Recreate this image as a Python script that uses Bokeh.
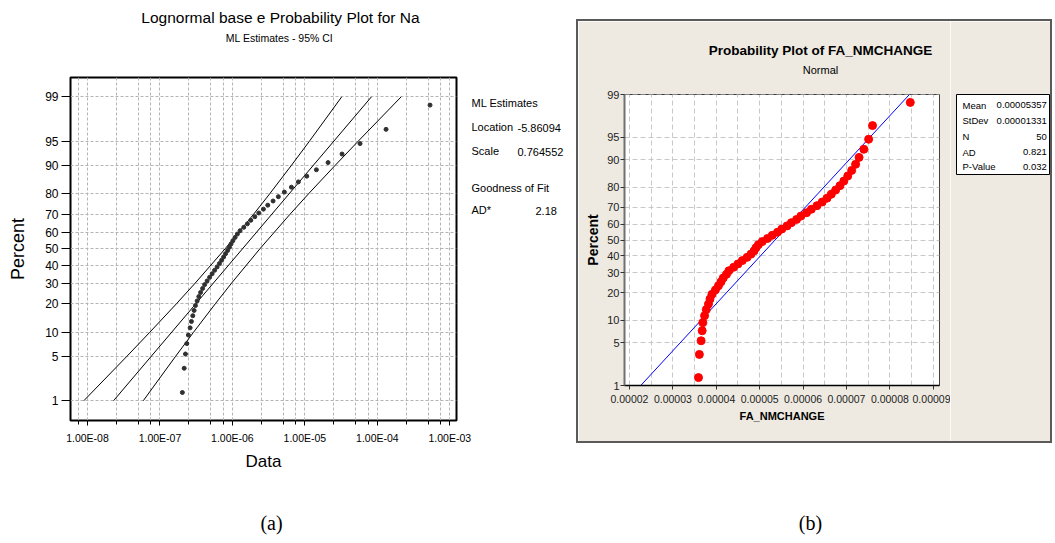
from statistics import NormalDist
from bokeh.plotting import figure
from bokeh.layouts import row, column
from bokeh.models import Range1d, FixedTicker, CustomJSTickFormatter, Label, Spacer
from bokeh.core.properties import value
from bokeh.embed import file_html
from bokeh.resources import INLINE

# ---------------- data ----------------
percent = [1.39, 3.37, 5.36, 7.34, 9.33, 11.31, 13.29, 15.28, 17.26, 19.25,
           21.23, 23.21, 25.20, 27.18, 29.17, 31.15, 33.13, 35.12, 37.10, 39.09,
           41.07, 43.06, 45.04, 47.02, 49.01, 50.99, 52.98, 54.96, 56.94, 58.93,
           60.91, 62.90, 64.88, 66.87, 68.85, 70.83, 72.82, 74.80, 76.79, 78.77,
           80.75, 82.74, 84.72, 86.71, 88.69, 90.67, 92.66, 94.64, 96.63, 98.61]

na_data = [2.04e-7, 2.16e-7, 2.25e-7, 2.35e-7, 2.47e-7, 2.61e-7, 2.72e-7, 2.84e-7, 2.96e-7, 3.09e-7,
           3.26e-7, 3.44e-7, 3.64e-7, 3.88e-7, 4.14e-7, 4.48e-7, 4.85e-7, 5.25e-7, 5.68e-7, 6.15e-7,
           6.62e-7, 7.10e-7, 7.57e-7, 8.05e-7, 8.59e-7, 9.10e-7, 9.59e-7, 1.016e-6, 1.089e-6, 1.172e-6,
           1.276e-6, 1.436e-6, 1.611e-6, 1.795e-6, 2.037e-6, 2.312e-6, 2.679e-6, 3.076e-6, 3.639e-6, 4.305e-6,
           5.212e-6, 6.516e-6, 8.128e-6, 1.062e-5, 1.442e-5, 2.089e-5, 3.258e-5, 5.768e-5, 1.318e-4, 5.333e-4]
na_fit_pct = [1, 99]
na_fit_x = [2.29e-8, 8.28e-5]
na_ci_pct = [1, 5, 10, 20, 30, 50, 70, 80, 90, 95, 99]
na_ci_upper = [8.91e-9, 3.51e-8, 7.19e-8, 1.69e-7, 3.07e-7, 7.93e-7, 1.945e-6, 3.27e-6, 6.56e-6, 1.15e-5, 3.22e-5]
na_ci_lower = [5.89e-8, 1.648e-7, 2.89e-7, 5.81e-7, 9.75e-7, 2.393e-6, 6.18e-6, 1.122e-5, 2.636e-5, 5.41e-5, 2.128e-4]
na_x_ticks = [1e-8, 1e-7, 1e-6, 1e-5, 1e-4, 1e-3]
na_x_labels = ["1.00E-08", "1.00E-07", "1.00E-06", "1.00E-05", "1.00E-04", "1.00E-03"]
na_x_minor = [7.5e-9, 2.5e-8, 5e-8, 7.5e-8, 2.5e-7, 5e-7, 7.5e-7, 2.5e-6, 5e-6, 7.5e-6,
              2.5e-5, 5e-5, 7.5e-5, 2.5e-4, 5e-4, 7.5e-4]
na_stats_names = ["Location", "Scale"]
na_stats_values = ["-5.86094", "0.764552"]
na_ad = "2.18"

fa_data = [3.59e-5, 3.61e-5, 3.65e-5, 3.675e-5, 3.69e-5, 3.73e-5, 3.77e-5, 3.82e-5, 3.855e-5, 3.90e-5,
           3.98e-5, 4.05e-5, 4.11e-5, 4.16e-5, 4.235e-5, 4.29e-5, 4.40e-5, 4.50e-5, 4.60e-5, 4.71e-5,
           4.80e-5, 4.87e-5, 4.915e-5, 4.97e-5, 5.06e-5, 5.18e-5, 5.29e-5, 5.41e-5, 5.51e-5, 5.63e-5,
           5.73e-5, 5.85e-5, 5.95e-5, 6.08e-5, 6.19e-5, 6.32e-5, 6.44e-5, 6.55e-5, 6.65e-5, 6.75e-5,
           6.85e-5, 6.94e-5, 7.03e-5, 7.12e-5, 7.21e-5, 7.29e-5, 7.40e-5, 7.51e-5, 7.60e-5, 8.47e-5]
fa_fit_pct = [1, 99]
fa_fit_x = [2.26e-5, 8.45e-5]
fa_x_ticks = [2e-5, 3e-5, 4e-5, 5e-5, 6e-5, 7e-5, 8e-5, 9e-5]
fa_x_labels = ["0.00002", "0.00003", "0.00004", "0.00005", "0.00006", "0.00007", "0.00008", "0.00009"]
fa_x_minor = [2.5e-5, 3.5e-5, 4.5e-5, 5.5e-5, 6.5e-5, 7.5e-5, 8.5e-5]
fa_stats_names = ["Mean", "StDev", "N", "AD", "P-Value"]
fa_stats_values = ["0.00005357", "0.00001331", "50", "0.821", "0.032"]

pct_ticks = [1, 5, 10, 20, 30, 40, 50, 60, 70, 80, 90, 95, 99]
pct_labels = ["1", "5", "10", "20", "30", "40", "50", "60", "70", "80", "90", "95", "99"]

# ---------------- helpers ----------------
ND = NormalDist()


def zq(p):
    return ND.inv_cdf(p / 100.0)


SANS = "Liberation Sans"
SERIF = "Liberation Serif"
BEIGE = "#EEEAE1"
EDGE = "#5a5a5a"

pct_z = [zq(p) for p in pct_ticks]


def nearest_fmt(tvals, tlabels, log=False):
    code = """
    const f = (v) => LOGFLAG ? Math.log10(v) : v;
    let b = 0, bd = Infinity;
    for (let i = 0; i < tv.length; i++) {
        const d = Math.abs(f(tv[i]) - f(tick));
        if (d < bd) { bd = d; b = i; }
    }
    return tl[b];
    """.replace("LOGFLAG", "true" if log else "false")
    return CustomJSTickFormatter(args=dict(tv=tvals, tl=tlabels), code=code)


def add_text(fig, side, x, y, text, size, align="left", font=SANS, style="normal",
             color="black", line_height=1.2):
    fig.add_layout(Label(x=x, y=y, x_units="canvas", y_units="canvas", text=text,
                         text_font=font, text_font_size=f"{size}px", text_font_style=style,
                         text_color=color, text_align=align, text_baseline="middle",
                         text_line_height=line_height), side)


def bare_figure(w, h, xr, yr, **kw):
    f = figure(width=w, height=h, x_range=xr, y_range=yr, output_backend="svg",
               toolbar_location=None, x_axis_location=None, y_axis_location=None, **kw)
    f.frame_align = False
    f.grid.grid_line_color = None
    return f


def edge(w, h):
    return Spacer(width=w, height=h, styles={"background-color": EDGE})


# ---------------- (a) lognormal plot ----------------
pa = figure(width=576, height=543, x_axis_type="log",
            x_range=Range1d(10 ** -8.234, 10 ** -2.908), y_range=Range1d(-2.629, 2.623),
            output_backend="svg", toolbar_location=None,
            min_border_left=70, min_border_right=120, min_border_top=77, min_border_bottom=123)
pa.frame_align = False
pa.background_fill_color = "white"
pa.border_fill_color = "white"
pa.outline_line_color = "black"
pa.outline_line_width = 2

pa.xaxis.ticker = FixedTicker(ticks=na_x_ticks, minor_ticks=na_x_minor)
pa.xaxis.formatter = nearest_fmt(na_x_ticks, na_x_labels, log=True)
pa.yaxis.ticker = FixedTicker(ticks=pct_z)
pa.yaxis.formatter = nearest_fmt(pct_z, pct_labels)

for ax in (pa.xaxis[0], pa.yaxis[0]):
    ax.axis_line_color = None
    ax.major_tick_in = 0
    ax.minor_tick_in = 0
    ax.major_tick_line_color = "black"
    ax.minor_tick_line_color = "black"
    ax.major_label_text_font = SANS
    ax.major_label_text_color = "black"
    ax.axis_label_text_font = SANS
    ax.axis_label_text_font_style = "normal"
    ax.axis_label_text_color = "black"
pa.xaxis.major_tick_out = 5
pa.xaxis.minor_tick_out = 4
pa.xaxis.major_label_standoff = 6
pa.xaxis.major_label_text_font_size = "10.5px"
pa.xaxis.axis_label = "Data"
pa.xaxis.axis_label_text_font_size = "17px"
pa.xaxis.axis_label_standoff = 5
pa.yaxis.major_tick_out = 9
pa.yaxis.minor_tick_out = 0
pa.yaxis.major_label_standoff = 3
pa.yaxis.major_label_text_font_size = "12px"
pa.yaxis.axis_label = "Percent"
pa.yaxis.axis_label_text_font_size = "18px"
pa.yaxis.axis_label_standoff = 14

for g in (pa.xgrid[0], pa.ygrid[0]):
    g.grid_line_color = "#b4b4b4"
    g.grid_line_dash = "3 2"
    g.grid_line_width = 1
pa.xgrid.minor_grid_line_color = "#b4b4b4"
pa.xgrid.minor_grid_line_dash = "3 2"

na_pz = [zq(p) for p in percent]
pa.line(na_ci_upper, [zq(p) for p in na_ci_pct], line_color="black", line_width=1)
pa.line(na_fit_x, [zq(p) for p in na_fit_pct], line_color="black", line_width=1)
pa.line(na_ci_lower, [zq(p) for p in na_ci_pct], line_color="black", line_width=1)
pa.scatter(na_data, na_pz, size=4, fill_color="#303030", line_color="#303030")

add_text(pa, "above", 280, 17, "Lognormal base e Probability Plot for Na", 15.5, align="center")
add_text(pa, "above", 279, 37, "ML Estimates - 95% CI", 10.5, align="center")
add_text(pa, "above", 535, 210, na_ad, 11)
add_text(pa, "right", 471, 126.5, "\n".join(["ML Estimates"] + na_stats_names), 11, line_height=2.0)
add_text(pa, "right", 517, 139.5, "\n".join(na_stats_values), 11, line_height=2.0)
add_text(pa, "below", 471, 198.5, "Goodness of Fit\nAD*", 11, line_height=1.87)
add_text(pa, "below", 271, 522, "(a)", 20, align="center", font=SERIF)

# ---------------- (b) normal plot: main panel ----------------
pb = figure(width=372, height=420,
            x_range=Range1d(1.885e-5, 9.143e-5), y_range=Range1d(zq(1) - 1e-9, zq(99) + 1e-9),
            output_backend="svg", toolbar_location=None,
            min_border_left=46, min_border_right=11, min_border_top=73, min_border_bottom=56)
pb.frame_align = False
pb.background_fill_color = "white"
pb.border_fill_color = BEIGE
pb.outline_line_color = "#404040"
pb.outline_line_width = 1

pb.xaxis.ticker = FixedTicker(ticks=fa_x_ticks, minor_ticks=fa_x_minor)
pb.xaxis.formatter = nearest_fmt(fa_x_ticks, fa_x_labels)
pb.yaxis.ticker = FixedTicker(ticks=pct_z)
pb.yaxis.formatter = nearest_fmt(pct_z, pct_labels)

for ax in (pb.xaxis[0], pb.yaxis[0]):
    ax.major_tick_in = 0
    ax.major_tick_out = 4
    ax.minor_tick_in = 0
    ax.minor_tick_out = 0
    ax.major_tick_line_color = "#333333"
    ax.major_label_text_font = SANS
    ax.major_label_text_color = "#222222"
    ax.axis_label_text_font = SANS
    ax.axis_label_text_font_style = "bold"
    ax.axis_label_text_color = "black"
pb.xaxis.major_label_text_font_size = "10.5px"
pb.yaxis.major_label_text_font_size = "11px"
pb.xaxis.axis_line_color = "black"
pb.xaxis.axis_line_width = 1.5
pb.yaxis.axis_line_color = "#707070"
pb.yaxis.axis_line_width = 2
pb.xaxis.major_label_standoff = 5
pb.yaxis.major_label_standoff = 1
pb.xaxis.axis_label = "FA_NMCHANGE"
pb.xaxis.axis_label_text_font_size = "11px"
pb.xaxis.axis_label_standoff = 4
pb.yaxis.axis_label = "Percent"
pb.yaxis.axis_label_text_font_size = "14px"
pb.yaxis.axis_label_standoff = 3

for g in (pb.xgrid[0], pb.ygrid[0]):
    g.grid_line_color = "#c8c8c8"
    g.grid_line_dash = "5 3"
    g.grid_line_width = 1
pb.xgrid.minor_grid_line_color = "#c8c8c8"
pb.xgrid.minor_grid_line_dash = "5 3"

pb.line(fa_fit_x, [zq(p) for p in fa_fit_pct], line_color="#0000FF", line_width=1)
pb.scatter(fa_data, [zq(p) for p in percent], size=8, fill_color="#FF0000", line_color="#FF0000")

add_text(pb, "above", 242, 29, "Probability Plot of FA_NMCHANGE", 13.5, align="center", style="bold")
add_text(pb, "above", 242, 48, "Normal", 11, align="center")

# ---------------- (b) statistics box ----------------
ps = bare_figure(100, 420, Range1d(0, 93), Range1d(80, 0),
                 min_border_left=6, min_border_right=1, min_border_top=73, min_border_bottom=267)
ps.background_fill_color = "white"
ps.border_fill_color = BEIGE
ps.outline_line_color = "black"
ps.outline_line_width = 1
rows_y = [10.7, 26.4, 42.0, 57.7, 72.4]
ps.text(x=[6] * len(rows_y), y=rows_y, text=fa_stats_names, text_font=value(SANS),
        text_font_size="9.5px", text_align="left", text_baseline="middle", text_color="black")
ps.text(x=[90.3] * len(rows_y), y=rows_y, text=fa_stats_values, text_font=value(SANS),
        text_font_size="9.5px", text_align="right", text_baseline="middle", text_color="black")

# ---------------- (b) caption ----------------
pc = bare_figure(479, 100, Range1d(0, 479), Range1d(100, 0),
                 min_border_left=0, min_border_right=0, min_border_top=0, min_border_bottom=0)
pc.background_fill_color = "white"
pc.border_fill_color = "white"
pc.outline_line_color = None
pc.text(x=[234], y=[79], text=["(b)"], text_font=value(SERIF), text_font_size="20px",
        text_align="center", text_baseline="middle", text_color="black")

inner_b = column(edge(472, 2), row(pb, ps, spacing=0), edge(472, 2), spacing=0)
panel_b = row(edge(2, 424), inner_b, edge(2, 424), spacing=0)
right_col = column(Spacer(width=479, height=19), panel_b, pc, spacing=0)
layout = row(pa, right_col, spacing=0)
open("out.html", "w").write(file_html(layout, INLINE))
